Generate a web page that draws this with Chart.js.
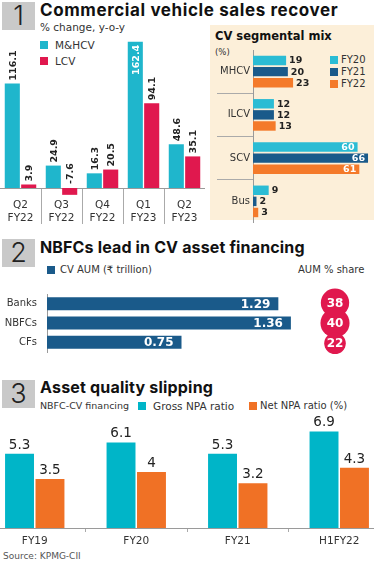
<!DOCTYPE html>
<html><head><meta charset="utf-8">
<script src="https://cdn.jsdelivr.net/npm/chart.js@4.4.1/dist/chart.umd.min.js"></script>
<style>
html,body{margin:0;padding:0;background:#fff;}
body{width:374px;height:561px;overflow:hidden;position:relative;font-family:'DejaVu Sans',sans-serif;color:#222;}
.a{position:absolute;white-space:nowrap;line-height:1;transform:translateY(-50%);}
.box{position:absolute;background:#c9c9c9;width:33px;height:28px;left:2px;font-family:Inter,sans-serif;font-size:27px;font-weight:300;text-align:center;line-height:28px;color:#222;}
.t{font-family:Inter,sans-serif;font-weight:700;font-size:16px;color:#111;}
.s{font-size:10px;color:#333;}
.sq{position:absolute;width:8px;height:8px;}
canvas{position:absolute;}
#beige{position:absolute;left:210px;top:25px;width:164px;height:195px;background:#fcefd9;}
</style></head><body>
<div id="beige"></div>
<div class="box" style="top:2px">1</div>
<div class="a t" style="left:40px;top:10px;font-size:17px;letter-spacing:0.6px">Commercial vehicle sales recover</div>
<div class="a s" style="left:40px;top:27px;font-size:10.5px">% change, y-o-y</div>
<div class="sq" style="left:40px;top:41px;background:#1fb6cc"></div>
<div class="a s" style="left:55px;top:45px;font-size:10.5px">M&amp;HCV</div>
<div class="sq" style="left:40px;top:57px;background:#e0184e"></div>
<div class="a s" style="left:55px;top:61px;font-size:10.5px">LCV</div>

<div class="a" style="left:215px;top:37px;font-weight:700;font-size:11.5px;color:#111">CV segmental mix</div>
<div class="a" style="left:215px;top:52px;font-size:8.5px;color:#333">(%)</div>
<div class="sq" style="left:330px;top:56px;background:#2bbcd4"></div>
<div class="a s" style="left:341px;top:60px">FY20</div>
<div class="sq" style="left:330px;top:68px;background:#1a5a8a"></div>
<div class="a s" style="left:341px;top:72px">FY21</div>
<div class="sq" style="left:330px;top:80px;background:#f47a2a"></div>
<div class="a s" style="left:341px;top:84px">FY22</div>

<div class="box" style="top:239px">2</div>
<div class="a t" style="left:40px;top:247px;letter-spacing:0.15px">NBFCs lead in CV asset financing</div>
<div class="sq" style="left:47px;top:266px;background:#1a5a8a"></div>
<div class="a s" style="left:60px;top:270px">CV AUM (₹ trillion)</div>
<div class="a s" style="left:298px;top:270px">AUM % share</div>

<div class="box" style="top:380px">3</div>
<div class="a t" style="left:40px;top:387px;letter-spacing:0.2px">Asset quality slipping</div>
<div class="a s" style="left:40px;top:406px;font-size:9.5px">NBFC-CV financing</div>
<div class="sq" style="left:138px;top:402px;background:#00b5c8"></div>
<div class="a s" style="left:153px;top:406px;font-size:10.5px">Gross NPA ratio</div>
<div class="sq" style="left:249px;top:402px;background:#f07125"></div>
<div class="a s" style="left:260px;top:406px">Net NPA ratio (%)</div>
<div class="a" style="left:3px;top:556px;font-size:9px;color:#555">Source: KPMG-CII</div>

<canvas id="c1" style="left:0;top:35px" width="205" height="201"></canvas>
<canvas id="c2" style="left:210px;top:50px" width="165" height="173"></canvas>
<canvas id="c3" style="left:0;top:278px" width="316" height="90"></canvas>
<canvas id="c4" style="left:315px;top:278px" width="40" height="90"></canvas>
<canvas id="c5" style="left:-16px;top:416px" width="406" height="132"></canvas>

<script>
// ---- data ----
const quarters = [['Q2','FY22'],['Q3','FY22'],['Q4','FY22'],['Q1','FY23'],['Q2','FY23']];
const mhcv = [116.1, 24.9, 16.3, 162.4, 48.6];
const lcv = [3.9, -7.6, 20.5, 94.1, 35.1];

const segments = ['MHCV','ILCV','SCV','Bus'];
const fy20mix = [19, 12, 60, 9];
const fy21mix = [20, 12, 66, 2];
const fy22mix = [23, 13, 61, 3];

const lenders = ['Banks','NBFCs','CFs'];
const aum = [1.29, 1.36, 0.75];
const aumShare = [38, 40, 22];

const years = ['FY19','FY20','FY21','H1FY22'];
const grossNpa = [5.3, 6.1, 5.3, 6.9];
const netNpa = [3.5, 4, 3.2, 4.3];

// ---- setup ----
const FONT = "'DejaVu Sans', sans-serif";
Chart.defaults.font.family = FONT;
Chart.defaults.animation = false;
Chart.defaults.responsive = false;
Chart.defaults.plugins.legend.display = false;
Chart.defaults.plugins.tooltip.enabled = false;
Chart.defaults.color = '#333';

function labelPlugin(fn){
  return {id:'lbl', afterDatasetsDraw(chart){
    const ctx = chart.ctx;
    chart.data.datasets.forEach((ds, di) => {
      chart.getDatasetMeta(di).data.forEach((el, i) => { ctx.save(); fn(ctx, el, ds.data[i], di, i); ctx.restore(); });
    });
  }};
}
const GRAY = '#9a9a9a';

// ---- chart 1 ----
new Chart(document.getElementById('c1'), {
  type:'bar',
  data:{labels:quarters, datasets:[
    {data:mhcv, backgroundColor:'#1fb6cc'},
    {data:lcv, backgroundColor:'#e0184e'}
  ]},
  options:{
    layout:{padding:{bottom:30}},
    datasets:{bar:{categoryPercentage:0.8, barPercentage:0.92}},
    scales:{
      y:{display:false, min:-20, max:170},
      x:{position:{y:0},
         afterFit(s){s.height=0;},
         border:{display:true,color:GRAY},
         grid:{offset:true, drawOnChartArea:false, tickLength:35,
               color:c => (c.index===0 || c.index>=quarters.length) ? 'rgba(0,0,0,0)' : '#aaa'},
         ticks:{padding:-24, font:{size:10.5}, color:'#333', maxRotation:0}
      }
    }
  },
  plugins:[labelPlugin((ctx, el, v) => {
    const inside = v > 150;
    ctx.font = 'bold 9.5px ' + FONT;
    const y = inside ? el.y + 3 : (v >= 0 ? el.y - 3 : el.base - 4);
    ctx.translate(el.x, y);
    ctx.rotate(-Math.PI/2);
    ctx.textBaseline = 'middle';
    ctx.textAlign = inside ? 'right' : 'left';
    ctx.fillStyle = inside ? '#fff' : '#222';
    ctx.fillText(String(v), 0, 1);
  })]
});

// ---- chart 2 ----
new Chart(document.getElementById('c2'), {
  type:'bar',
  data:{labels:segments, datasets:[
    {data:fy20mix, backgroundColor:'#2bbcd4'},
    {data:fy21mix, backgroundColor:'#1a5a8a'},
    {data:fy22mix, backgroundColor:'#f47a2a'}
  ]},
  options:{
    indexAxis:'y',
    datasets:{bar:{categoryPercentage:0.77, barPercentage:0.85}},
    scales:{
      x:{display:false, min:0, max:70},
      y:{afterFit(s){s.width=43;},
         border:{display:true,color:GRAY},
         grid:{offset:true, drawOnChartArea:false, tickLength:36,
               color:c => (c.index===0 || c.index>=segments.length) ? 'rgba(0,0,0,0)' : '#aaa'},
         ticks:{padding:-33, font:{size:10}, color:'#333'}
      }
    }
  },
  plugins:[labelPlugin((ctx, el, v) => {
    const inside = v > 50;
    ctx.font = 'bold 9.5px ' + FONT;
    ctx.textBaseline = 'middle';
    if (inside){ ctx.textAlign='right'; ctx.fillStyle='#fff'; ctx.fillText(String(v), el.x-3, el.y+0.5); }
    else { ctx.textAlign='left'; ctx.fillStyle='#222'; ctx.fillText(String(v), el.x+3, el.y+0.5); }
  })]
});

// ---- chart 3 ----
new Chart(document.getElementById('c3'), {
  type:'bar',
  data:{labels:lenders, datasets:[{data:aum, backgroundColor:'#1a5a8a'}]},
  options:{
    indexAxis:'y',
    datasets:{bar:{categoryPercentage:0.67, barPercentage:1}},
    scales:{
      x:{display:false, min:0, max:1.5},
      y:{afterFit(s){s.width=47;},
         border:{display:true,color:GRAY},
         grid:{display:false, drawTicks:false},
         ticks:{padding:10, font:{size:10}, color:'#333'}
      }
    }
  },
  plugins:[labelPlugin((ctx, el, v) => {
    ctx.font = 'bold 12px ' + FONT;
    ctx.textBaseline = 'middle'; ctx.textAlign = 'right'; ctx.fillStyle = '#fff';
    ctx.fillText(v.toFixed(2), el.x-8, el.y+1);
  })]
});

// ---- chart 4: share bubbles ----
new Chart(document.getElementById('c4'), {
  type:'bubble',
  data:{labels:lenders, datasets:[{
    data: aumShare.map((s, i) => ({x:0, y:lenders[i]})),
    backgroundColor:'#e0184e', borderWidth:0, clip:false,
    radius: c => Math.sqrt(aumShare[c.dataIndex]) * 2.3
  }]},
  options:{
    scales:{
      x:{display:false, min:-1, max:1},
      y:{display:false, type:'category', labels:lenders, offset:true}
    }
  },
  plugins:[labelPlugin((ctx, el, v, di, i) => {
    ctx.font = 'bold 12px ' + FONT;
    ctx.textBaseline = 'middle'; ctx.textAlign = 'center'; ctx.fillStyle = '#fff';
    ctx.fillText(String(aumShare[i]), el.x, el.y+1);
  })]
});

// ---- chart 5 ----
new Chart(document.getElementById('c5'), {
  type:'bar',
  data:{labels:years, datasets:[
    {data:grossNpa, backgroundColor:'#00b5c8'},
    {data:netNpa, backgroundColor:'#f07125'}
  ]},
  options:{
    datasets:{bar:{categoryPercentage:0.6, barPercentage:0.95}},
    scales:{
      y:{display:false, min:0, max:8},
      x:{afterFit(s){s.height=20;},
         border:{display:true,color:GRAY},
         grid:{offset:true, drawOnChartArea:false, tickLength:4, color:'#aaa'},
         ticks:{padding:3, font:{size:10.5}, color:'#333'}
      }
    }
  },
  plugins:[labelPlugin((ctx, el, v) => {
    ctx.font = '13.5px ' + FONT;
    ctx.textBaseline = 'bottom'; ctx.textAlign = 'center'; ctx.fillStyle = '#222';
    ctx.fillText(String(v), el.x, el.y-2);
  })]
});
</script>
</body></html>
